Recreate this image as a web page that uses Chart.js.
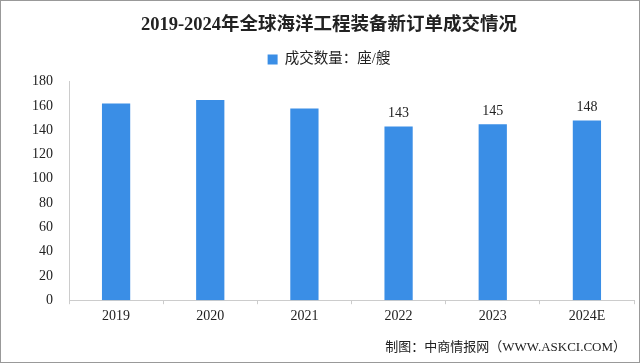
<!DOCTYPE html>
<html>
<head>
<meta charset="utf-8">
<script src="https://cdn.jsdelivr.net/npm/chart.js@4.4.0/dist/chart.umd.min.js"></script>
<style>
  html, body { margin: 0; padding: 0; background: #fff; }
  #wrap { width: 640px; height: 363px; position: relative; }
</style>
</head>
<body>
<div id="wrap"><canvas id="c"></canvas></div>
<script>
const years   = ['2019', '2020', '2021', '2022', '2023', '2024E'];
const deals   = [162, 165, 158, 143, 145, 148];
const shown   = [null, null, null, '143', '145', '148'];   // labels drawn over bars
const yTicks  = [0, 20, 40, 60, 80, 100, 120, 140, 160, 180];

const serif = '"Liberation Serif", "Noto Sans CJK SC", serif';
const cjk   = '"Liberation Serif", "Noto Sans CJK SC", sans-serif';

// ── extra gap under the legend ──
const legendGap = {
    id: 'legendGap',
    beforeLayout(chart) {
        const lg = chart.legend;
        if (!lg || lg._gapPatched) return;
        const fit = lg.fit;
        lg.fit = function () { fit.call(this); this.height += 5; };
        lg._gapPatched = true;
    }
};

// ── value labels, frame and footer ──
const extras = {
    id: 'extras',
    afterDatasetsDraw(chart) {
        const { ctx } = chart;
        const meta = chart.getDatasetMeta(0);
        ctx.save();
        ctx.fillStyle = '#222';
        ctx.font = '14px ' + serif;
        ctx.textAlign = 'center';
        ctx.textBaseline = 'bottom';
        meta.data.forEach((bar, i) => {
            if (shown[i]) ctx.fillText(shown[i], bar.x, bar.y - 6);
        });
        // footer
        ctx.font = '13px ' + cjk;
        ctx.textAlign = 'right';
        ctx.textBaseline = 'middle';
        ctx.fillText('制图：中商情报网（WWW.ASKCI.COM）', 626, 348);
        // frame
        ctx.strokeStyle = '#999';
        ctx.lineWidth = 1;
        ctx.strokeRect(0.5, 0.5, 639, 362);
        ctx.restore();
    }
};

new Chart(document.getElementById('c'), {
    type: 'bar',
    data: {
        labels: years,
        datasets: [{
            label: '成交数量：座/艘',
            data: deals,
            backgroundColor: '#3a8ee6',
            barPercentage: 0.3, categoryPercentage: 1,
        }],
    },
    options: {
        responsive: true, maintainAspectRatio: false, animation: false,
        layout: { padding: { left: 24, right: 6, top: 8, bottom: 34 } },
        plugins: {
            title: {
                display: true,
                text: '2019-2024年全球海洋工程装备新订单成交情况',
                color: '#222',
                font: { family: serif, size: 18.5, weight: 'bold' },
                padding: { top: 6, bottom: 5 },
            },
            legend: {
                labels: {
                    color: '#222', boxWidth: 10, boxHeight: 10,
                    font: { family: cjk, size: 14.5 },
                    padding: 11,
                },
            },
            tooltip: { enabled: false },
        },
        scales: {
            x: {
                grid: { display: true, drawOnChartArea: false, color: '#ccc', tickLength: 4 },
                border: { color: '#ccc' },
                ticks: { color: '#222', font: { family: serif, size: 14 }, padding: 4 },
            },
            y: {
                min: 0, max: 180,
                afterBuildTicks: ax => { ax.ticks = yTicks.map(v => ({ value: v })); },
                grid: { display: false },
                border: { display: true, color: '#ccc' },
                ticks: { color: '#222', font: { family: serif, size: 14 }, padding: 8 },
            },
        },
    },
    plugins: [legendGap, extras],
});
</script>
</body>
</html>
